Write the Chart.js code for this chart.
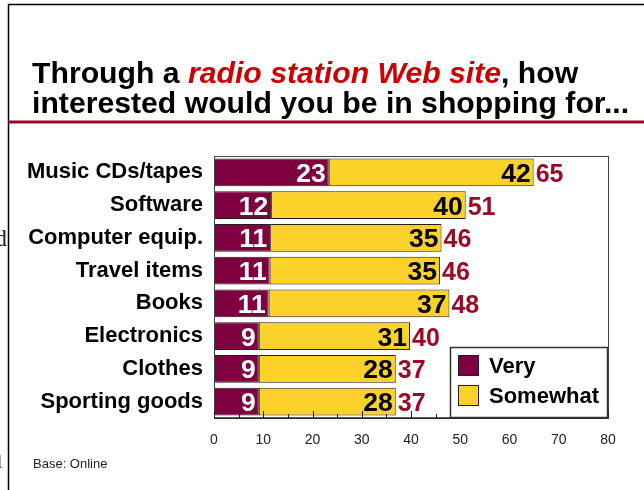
<!DOCTYPE html>
<html>
<head>
<meta charset="utf-8">
<script src="https://cdn.jsdelivr.net/npm/chart.js@4.4.1/dist/chart.umd.min.js"></script>
<style>
    html, body { margin: 0; padding: 0; background: #fff; }
    canvas { display: block; }
</style>
</head>
<body>
<canvas id="chart" width="644" height="490"></canvas>
<script>
const categories = ['Music CDs/tapes', 'Software', 'Computer equip.', 'Travel items', 'Books', 'Electronics', 'Clothes', 'Sporting goods'];
// bar lengths, the printed numbers are rounded
const very = [23.3, 11.6, 11.4, 11.3, 11.1, 9.1, 9.1, 9.1];
const somewhat = [41.6, 39.5, 34.8, 34.6, 36.7, 30.7, 27.8, 27.8];
const totals = [65, 51, 46, 46, 48, 40, 37, 37];
const xTicks = [0, 10, 20, 30, 40, 50, 60, 70, 80];

const VERY_COLOR = '#7f0040';
const SOMEWHAT_COLOR = '#fcd12a';
const DARK_RED = '#9c0a26';
const FONT = '"Liberation Sans", Arial, Helvetica, sans-serif';

// slide frame, title and footnote
const slidePlugin = {
    id: 'slide',
    beforeDraw(chart) {
        const ctx = chart.ctx;
        ctx.save();
        ctx.fillStyle = '#fff';
        ctx.fillRect(0, 0, chart.width, chart.height);

        ctx.strokeStyle = '#000';
        ctx.lineWidth = 1.5;
        ctx.beginPath();
        ctx.moveTo(8.5, 4);
        ctx.lineTo(8.5, 490);
        ctx.moveTo(8, 4.5);
        ctx.lineTo(644, 4.5);
        ctx.stroke();

        // leftovers of the neighbouring slide
        ctx.font = '24px "Liberation Serif", serif';
        ctx.fillStyle = '#222';
        ctx.textBaseline = 'alphabetic';
        ctx.fillText('d', -5, 246);
        ctx.font = '18px "Liberation Serif", serif';
        ctx.fillStyle = '#555';
        ctx.fillText('1', -5, 468);

        let parts = [
            {text: 'Through a ', color: '#000', style: 'bold'},
            {text: 'radio station Web site', color: '#cc0000', style: 'italic bold'},
            {text: ', how', color: '#000', style: 'bold'}
        ];
        let x = 32;
        parts.forEach(p => {
            ctx.font = p.style + ' 30.2px ' + FONT;
            ctx.fillStyle = p.color;
            ctx.fillText(p.text, x, 83);
            x += ctx.measureText(p.text).width;
        });
        ctx.font = 'bold 30.2px ' + FONT;
        ctx.fillStyle = '#000';
        ctx.fillText('interested would you be in shopping for...', 32, 113);

        ctx.fillStyle = DARK_RED;
        ctx.fillRect(8, 120.5, 636, 3);

        ctx.font = '13px ' + FONT;
        ctx.fillStyle = '#222';
        ctx.fillText('Base: Online', 33, 468);
        ctx.restore();
    }
};

// plot frame, axis ticks, value labels and the legend box
const overlayPlugin = {
    id: 'overlay',
    afterDatasetsDraw(chart) {
        const ctx = chart.ctx;
        const area = chart.chartArea;
        const xScale = chart.scales.x;
        ctx.save();

        ctx.strokeStyle = '#444';
        ctx.lineWidth = 1;
        ctx.strokeRect(Math.round(area.left) + 0.5, Math.round(area.top) + 0.5,
            Math.round(area.right - area.left), Math.round(area.bottom - area.top));

        ctx.strokeStyle = '#222';
        ctx.lineWidth = 1.5;
        ctx.beginPath();
        ctx.moveTo(area.left, area.bottom);
        ctx.lineTo(area.right, area.bottom);
        ctx.stroke();

        ctx.lineWidth = 1;
        ctx.beginPath();
        for(let v = 0; v <= 80; v += 5) {
            let px = Math.round(xScale.getPixelForValue(v)) + 0.5;
            let len = v % 10 === 0 ? 7 : 4;
            ctx.moveTo(px, area.bottom);
            ctx.lineTo(px, area.bottom - len);
        }
        ctx.stroke();

        const veryBars = chart.getDatasetMeta(0).data;
        const someBars = chart.getDatasetMeta(1).data;
        ctx.textBaseline = 'alphabetic';
        for(let i = 0; i < veryBars.length; i++) {
            let vb = veryBars[i];
            let sb = someBars[i];
            let y = vb.y + 9.5;

            ctx.font = 'bold 26.5px ' + FONT;
            ctx.textAlign = 'right';
            ctx.fillStyle = '#fff';
            ctx.fillText(String(Math.round(very[i])), vb.x - 3, y);

            ctx.fillStyle = '#000';
            ctx.fillText(String(Math.round(somewhat[i])), sb.x - 3, y);

            ctx.font = 'bold 25px ' + FONT;
            ctx.textAlign = 'left';
            ctx.fillStyle = DARK_RED;
            ctx.fillText(String(totals[i]), sb.x + 2, y);
        }

        // legend
        let lx = 450, ly = 347, lw = 157, lh = 71;
        ctx.fillStyle = '#fff';
        ctx.fillRect(lx, ly, lw, lh);
        ctx.strokeStyle = '#333';
        ctx.lineWidth = 1.5;
        ctx.strokeRect(lx + 0.5, ly + 0.5, lw, lh - 1);

        let items = [
            {label: chart.data.datasets[0].label, color: VERY_COLOR, y: 355},
            {label: chart.data.datasets[1].label, color: SOMEWHAT_COLOR, y: 385}
        ];
        ctx.lineWidth = 1;
        ctx.font = 'bold 22px ' + FONT;
        ctx.textAlign = 'left';
        items.forEach(it => {
            ctx.fillStyle = it.color;
            ctx.fillRect(458, it.y, 20, 20);
            ctx.strokeStyle = '#222';
            ctx.strokeRect(458.5, it.y + 0.5, 20, 20);
            ctx.fillStyle = '#000';
            ctx.fillText(it.label, 489, it.y + 18);
        });

        ctx.restore();
    }
};

new Chart(document.getElementById('chart'), {
    type: 'bar',
    data: {
        labels: categories,
        datasets: [
            {
                label: 'Very',
                data: very,
                backgroundColor: VERY_COLOR,
                borderColor: '#2a1a10',
                borderWidth: 1,
                borderSkipped: false
            },
            {
                label: 'Somewhat',
                data: somewhat,
                backgroundColor: SOMEWHAT_COLOR,
                borderColor: '#2a1a10',
                borderWidth: 1,
                borderSkipped: false
            }
        ]
    },
    options: {
        indexAxis: 'y',
        responsive: false,
        animation: false,
        events: [],
        layout: {
            padding: {left: 0, top: 156, right: 36, bottom: 0}
        },
        datasets: {
            bar: {
                categoryPercentage: 1,
                barPercentage: 0.85
            }
        },
        plugins: {
            legend: {display: false},
            title: {display: false},
            tooltip: {enabled: false}
        },
        scales: {
            x: {
                stacked: true,
                min: 0,
                max: 80,
                afterBuildTicks: (scale) => {
                    scale.ticks = xTicks.map(v => ({value: v}));
                },
                afterFit: (scale) => {
                    scale.height = 72;
                },
                grid: {display: false, drawTicks: false},
                border: {display: false},
                ticks: {
                    padding: 14,
                    color: '#222',
                    font: {family: FONT, size: 14}
                }
            },
            y: {
                stacked: true,
                afterFit: (scale) => {
                    scale.width = 214;
                },
                grid: {display: false, drawTicks: false},
                border: {display: false},
                ticks: {
                    padding: 11,
                    color: '#000',
                    font: {family: FONT, size: 22, weight: 'bold'}
                }
            }
        }
    },
    plugins: [slidePlugin, overlayPlugin]
});
</script>
</body>
</html>
